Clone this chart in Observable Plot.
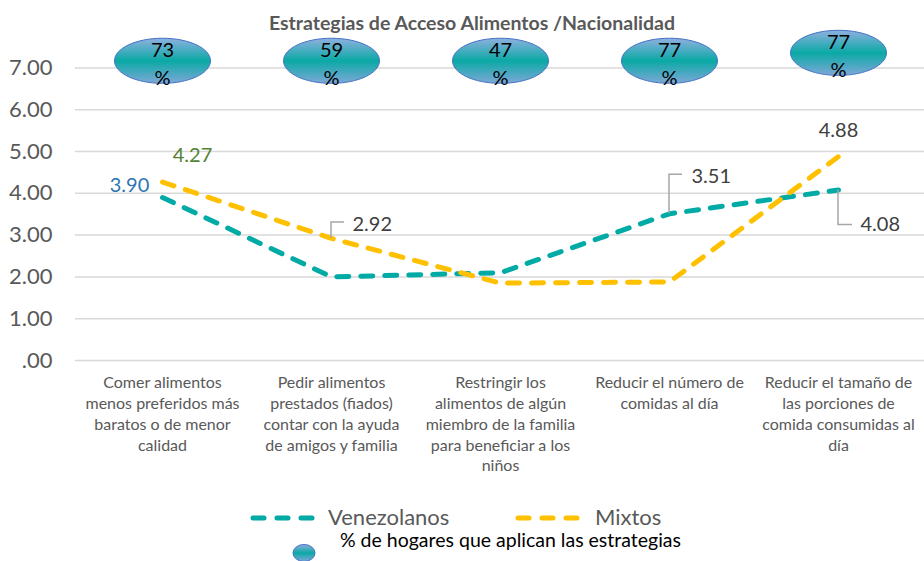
<!DOCTYPE html>
<html><head><meta charset="utf-8">
<script src="https://cdn.jsdelivr.net/npm/d3@7"></script>
<script src="https://cdn.jsdelivr.net/npm/@observablehq/plot@0.6"></script>
<style>
body{margin:0;background:#fff;font-family:Lato,"Open Sans",sans-serif}
#wrap{position:relative;width:924px;height:561px;overflow:hidden;background:#fff}
#title{position:absolute;left:0;top:0;width:944px;text-align:center;font-weight:bold;font-size:19.5px;color:#595959;line-height:46px;z-index:2}
#chart{position:absolute;left:0;top:30px}
.lg{position:absolute;white-space:nowrap;line-height:1}
</style></head>
<body>
<div id="wrap">
  <div id="title">Estrategias de Acceso Alimentos /Nacionalidad</div>
  <div id="chart"></div>
  <svg class="lg" style="left:249px;top:513px" width="70" height="10"><line x1="4" y1="5" x2="66" y2="5" stroke="#00aaa5" stroke-width="5" stroke-dasharray="11 13" stroke-linecap="round"/></svg>
  <div class="lg" style="left:328px;top:506px;font-size:22px;color:#595959">Venezolanos</div>
  <svg class="lg" style="left:514px;top:513px" width="70" height="10"><line x1="4" y1="5" x2="66" y2="5" stroke="#ffc000" stroke-width="5" stroke-dasharray="11 13" stroke-linecap="round"/></svg>
  <div class="lg" style="left:595px;top:506px;font-size:22px;color:#595959">Mixtos</div>
  <div class="lg" style="left:340px;top:530px;font-size:19.5px;color:#000">% de hogares que aplican las estrategias</div>
  <svg class="lg" style="left:290px;top:542px" width="30" height="22">
    <defs><linearGradient id="lgGrad" x1="0" y1="0" x2="0" y2="1">
      <stop offset="0" stop-color="#8fb0e0"/><stop offset="0.5" stop-color="#0aa9a5"/><stop offset="1" stop-color="#7ea8d8"/>
    </linearGradient></defs>
    <ellipse cx="14" cy="11" rx="11" ry="8.5" fill="url(#lgGrad)" stroke="#4472c4" stroke-width="1"/>
  </svg>
</div>
<script>
// ---- data ----
const categories = [
  "Comer alimentos\nmenos preferidos más\nbaratos o de menor\ncalidad",
  "Pedir alimentos\nprestados (fiados)\ncontar con la ayuda\nde amigos y familia",
  "Restringir los\nalimentos de algún\nmiembro de la familia\npara beneficiar a los\nniños",
  "Reducir el número de\ncomidas al día",
  "Reducir el tamaño de\nlas porciones de\ncomida consumidas al\ndía"
];
const venezolanos = [3.90, 2.00, 2.10, 3.51, 4.08];
const mixtos = [4.27, 2.92, 1.85, 1.88, 4.88];
const hogaresPct = [73, 59, 47, 77, 77];
const bubbleLevel = [7.17, 7.17, 7.17, 7.17, 7.36];
const yTicks = [0, 1, 2, 3, 4, 5, 6, 7];

// ---- build tables ----
const venRows = categories.map((c, i) => ({cat: c, v: venezolanos[i]}));
const mixRows = categories.map((c, i) => ({cat: c, v: mixtos[i]}));
const bubbles = categories.map((c, i) => ({cat: c, lvl: bubbleLevel[i], p: hogaresPct[i]}));

const TEAL = "#00aaa5", GOLD = "#ffc000";

// ellipse symbol (wide)
const ellipseSymbol = {
  draw(ctx, size) {
    const rx = Math.sqrt(size / Math.PI), ry = rx * 0.47, k = 0.5523;
    ctx.moveTo(rx, 0);
    ctx.bezierCurveTo(rx, ry * k, rx * k, ry, 0, ry);
    ctx.bezierCurveTo(-rx * k, ry, -rx, ry * k, -rx, 0);
    ctx.bezierCurveTo(-rx, -ry * k, -rx * k, -ry, 0, -ry);
    ctx.bezierCurveTo(rx * k, -ry, rx, -ry * k, rx, 0);
    ctx.closePath();
  }
};

function valueLabel(rows, i, fill, dx, dy, anchor) {
  return Plot.text([rows[i]], {x: "cat", y: "v", text: d => d.v.toFixed(2), dx, dy,
    fill, fontSize: 20, textAnchor: anchor || "middle", fontFamily: "Lato"});
}

// leader lines: vertical leg then short horizontal leg, positioned via the plot's scales
const leaders = [
  {row: mixRows[1], up: -16, right: 13},
  {row: venRows[3], up: -39, right: 13},
  {row: venRows[4], up: 35, right: 14}
];
function leaderMark(index, scales) {
  const g = d3.create("svg:g").attr("fill", "none").attr("stroke", "#a6a6a6").attr("stroke-width", 1.5);
  for (const l of leaders) {
    const x = scales.x(l.row.cat), y = scales.y(l.row.v);
    g.append("path").attr("d", `M${x},${y}V${y + l.up}H${x + l.right}`);
  }
  return g.node();
}

const plot = Plot.plot({
  width: 924,
  height: 460,
  marginLeft: 75,
  marginRight: 0,
  marginTop: 37.4,
  marginBottom: 130,
  style: {fontFamily: "Lato", color: "#595959", background: "transparent", overflow: "visible"},
  x: {type: "point", domain: categories, padding: 0.5, axis: null},
  y: {domain: [0, 7], axis: null},
  marks: [
    Plot.ruleY(yTicks, {stroke: "#d9d9d9", strokeWidth: 1.5}),
    Plot.text(yTicks, {y: d => d, frameAnchor: "left", textAnchor: "end", dx: -23,
      text: d => d === 0 ? ".00" : d.toFixed(2), fontSize: 22, fill: "#595959"}),
    Plot.text(categories, {x: d => d, frameAnchor: "bottom", lineAnchor: "top", dy: 13,
      text: d => d, fontSize: 16, lineHeight: 1.3, fill: "#595959"}),
    Plot.line(venRows, {x: "cat", y: "v", stroke: TEAL, strokeWidth: 5, strokeDasharray: "12 12",
      strokeLinecap: "round", strokeLinejoin: "round"}),
    Plot.line(mixRows, {x: "cat", y: "v", stroke: GOLD, strokeWidth: 5, strokeDasharray: "12 12",
      strokeLinecap: "round", strokeLinejoin: "round"}),
    leaderMark,
    valueLabel(venRows, 0, "#2e75b6", -33, -12),
    valueLabel(mixRows, 0, "#548235", 30, -26),
    valueLabel(mixRows, 1, "#404040", 21, -14, "start"),
    valueLabel(venRows, 3, "#404040", 22, -37, "start"),
    valueLabel(venRows, 4, "#404040", 22, 35, "start"),
    valueLabel(mixRows, 4, "#404040", 0, -26),
    Plot.dot(bubbles, {x: "cat", y: "lvl", r: 48, symbol: ellipseSymbol, fill: "url(#bubbleGrad)",
      stroke: "#4472c4", strokeWidth: 1}),
    Plot.text(bubbles, {x: "cat", y: "lvl", text: d => d.p + "\n%", fontSize: 20, lineHeight: 1.4,
      dy: 1, fill: "#000"})
  ]
});

const defs = d3.select(plot).insert("defs", ":first-child");
const grad = defs.append("linearGradient").attr("id", "bubbleGrad")
  .attr("x1", 0).attr("y1", 0).attr("x2", 0).attr("y2", 1);
grad.append("stop").attr("offset", 0).attr("stop-color", "#8fb0e0");
grad.append("stop").attr("offset", 0.5).attr("stop-color", "#0aa9a5");
grad.append("stop").attr("offset", 1).attr("stop-color", "#7ea8d8");

document.getElementById("chart").appendChild(plot);
</script>
</body></html>
